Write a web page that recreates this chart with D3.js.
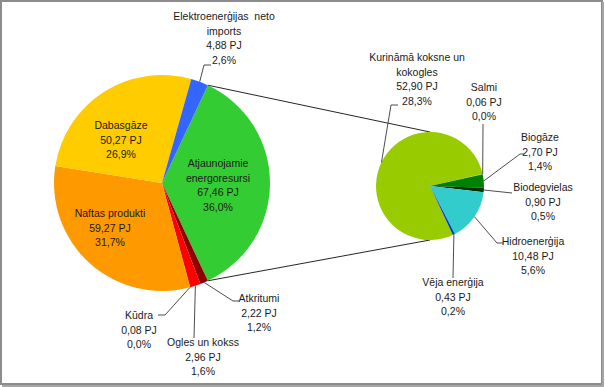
<!DOCTYPE html>
<html>
<head>
<meta charset="utf-8">
<script src="https://cdn.jsdelivr.net/npm/d3@7"></script>
<style>
  body { margin: 0; background: #fff; }
  text { font-family: "Liberation Sans", Arial, sans-serif; font-size: 10.5px; fill: #1a1a1a; }
</style>
</head>
<body>
<svg id="container"></svg>
<script>
// data - main pie (clockwise, starting with the split slice)
let mainNames = ['Atjaunojamie energoresursi', 'Atkritumi', 'Ogles un kokss', 'Kūdra', 'Naftas produkti', 'Dabasgāze', 'Elektroenerģijas  neto imports'];
let mainValues = [67.46, 2.22, 2.96, 0.08, 59.27, 50.27, 4.88];
let mainColors = ['#33cc33', '#8b0000', '#ff0000', '#a0522d', '#ff9900', '#ffcc00', '#3366ff'];

// data - secondary pie (renewables)
let subNames = ['Kurināmā koksne un kokogles', 'Salmi', 'Biogāze', 'Biodegvielas', 'Hidroenerģija', 'Vēja enerģija'];
let subValues = [52.90, 0.06, 2.70, 0.90, 10.48, 0.43];
let subColors = ['#99cc00', '#ccff66', '#008000', '#003300', '#33cccc', '#0033cc'];

// label layout: text lines, anchor x, first baseline y, leader path after slice point
let mainLabels = {
	'Atjaunojamie energoresursi': {lines: ['Atjaunojamie', 'energoresursi'], x: 218, y: 167},
	'Dabasgāze': {lines: ['Dabasgāze'], x: 121, y: 129},
	'Naftas produkti': {lines: ['Naftas produkti'], x: 110, y: 217},
	'Elektroenerģijas  neto imports': {lines: ['Elektroenerģijas  neto', 'imports'], x: 224, y: 20, leader: [[204, 65], [211, 65]]},
	'Kūdra': {lines: ['Kūdra'], x: 139, y: 319, leader: [[165, 315], [158, 315]]},
	'Ogles un kokss': {lines: ['Ogles un kokss'], x: 203, y: 346, leader: [[194, 338]]},
	'Atkritumi': {lines: ['Atkritumi'], x: 259, y: 302, leader: [[233, 301], [239, 301]]}
};
let subLabels = {
	'Kurināmā koksne un kokogles': {lines: ['Kurināmā koksne un', 'kokogles'], x: 417, y: 61, leader: [[391, 105], [398, 105]]},
	'Salmi': {lines: ['Salmi'], x: 484, y: 91, leader: [[483, 124]]},
	'Biogāze': {lines: ['Biogāze'], x: 540, y: 141, leader: [[520, 154], [524, 154]]},
	'Biodegvielas': {lines: ['Biodegvielas'], x: 543, y: 191, leader: [[512, 193]]},
	'Hidroenerģija': {lines: ['Hidroenerģija'], x: 533, y: 245, leader: [[497, 243], [503, 243]]},
	'Vēja enerģija': {lines: ['Vēja enerģija'], x: 453, y: 286, leader: [[453, 278]]}
};

let W = 605, H = 387;
let svg = d3.select('#container').attr('width', W).attr('height', H);

// frame
svg.append('rect')
	.attr('x', 1).attr('y', 1)
	.attr('width', W - 4).attr('height', H - 4)
	.attr('fill', '#fff')
	.attr('stroke', '#8c8c8c')
	.attr('stroke-width', 2);
svg.append('line').attr('x1', 603).attr('y1', 2).attr('x2', 603).attr('y2', 386).attr('stroke', '#a6a6a6').attr('stroke-width', 2);
svg.append('line').attr('x1', 2).attr('y1', 386).attr('x2', 604).attr('y2', 386).attr('stroke', '#a6a6a6').attr('stroke-width', 2);

let total = d3.sum(mainValues);
let fmtNum = (v) => d3.format('.2f')(v).replace('.', ',');
let fmtPct = (v) => d3.format('.1f')(v / total * 100).replace('.', ',') + '%';

// main pie geometry
let mc = {x: 162, y: 183, r: 108};
let splitAngle = mainValues[0] / total * 2 * Math.PI;
let mainPie = d3.pie().sort(null).value((d) => d.value)
	.startAngle(Math.PI / 2 - splitAngle / 2)
	.endAngle(Math.PI / 2 - splitAngle / 2 + 2 * Math.PI);
let mainData = mainPie(mainNames.map((n, i) => ({name: n, value: mainValues[i], color: mainColors[i]})));

// sub pie geometry
let sc = {x: 430, y: 186, r: 54};
let subStart = Math.PI / 2 + splitAngle / 2;
let subPie = d3.pie().sort(null).value((d) => d.value)
	.startAngle(subStart).endAngle(subStart + 2 * Math.PI);
let subData = subPie(subNames.map((n, i) => ({name: n, value: subValues[i], color: subColors[i]})));

let polar = (c, a, r) => [c.x + r * Math.sin(a), c.y - r * Math.cos(a)];

// connector lines between pies
let gConn = svg.append('g');
let split = mainData[0];
gConn.append('line')
	.attr('x1', polar(mc, split.startAngle, mc.r)[0]).attr('y1', polar(mc, split.startAngle, mc.r)[1])
	.attr('x2', sc.x).attr('y2', sc.y - sc.r)
	.attr('stroke', '#262626').attr('stroke-width', 1);
gConn.append('line')
	.attr('x1', polar(mc, split.endAngle, mc.r)[0]).attr('y1', polar(mc, split.endAngle, mc.r)[1])
	.attr('x2', sc.x).attr('y2', sc.y + sc.r)
	.attr('stroke', '#262626').attr('stroke-width', 1);

let drawPie = function(data, c, labels) {
	let arc = d3.arc().innerRadius(0).outerRadius(c.r);
	let g = svg.append('g').attr('transform', `translate(${c.x},${c.y})`);
	g.selectAll('path')
		.data(data)
		.enter()
		.append('path')
		.attr('d', arc)
		.attr('fill', (d) => d.data.color);

	let line = d3.line();
	data.forEach((d) => {
		let lab = labels[d.data.name];
		if (lab.leader) {
			let mid = (d.startAngle + d.endAngle) / 2;
			let pts = [polar(c, mid, c.r)].concat(lab.leader);
			svg.append('path')
				.attr('d', line(pts))
				.attr('fill', 'none')
				.attr('stroke', '#4d4d4d')
				.attr('stroke-width', 1);
		}
		let lines = lab.lines.concat([fmtNum(d.data.value) + ' PJ', fmtPct(d.data.value)]);
		let t = svg.append('text')
			.attr('text-anchor', 'middle')
			.attr('xml:space', 'preserve');
		lines.forEach((s, i) => {
			t.append('tspan')
				.attr('x', lab.x)
				.attr('y', lab.y + i * 14.5)
				.text(s);
		});
	});
};

drawPie(mainData, mc, mainLabels);
drawPie(subData, sc, subLabels);
</script>
</body>
</html>
